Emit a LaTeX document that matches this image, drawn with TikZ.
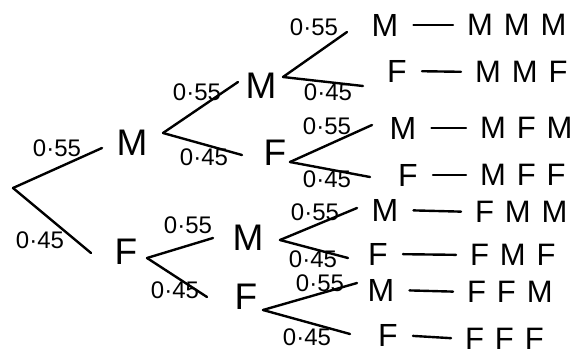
\documentclass[tikz,border=0pt]{standalone}
\usepackage{fontspec}
\setmainfont{Liberation Sans}
\newfontfamily\resfont[LetterSpace=35]{Liberation Sans}
\begin{document}
\begin{tikzpicture}[x=1pt,y=-1pt,line cap=round,line join=round,
  br/.style={line width=2.4pt},
  dashline/.style={line width=2.4pt,shorten <=15pt,shorten >=14pt},
  big/.style={inner sep=0pt,font=\fontsize{37}{37}\selectfont},
  leaf/.style={inner sep=0pt,font=\fontsize{32}{32}\selectfont},
  res/.style={inner sep=0pt,anchor=west,font=\resfont\fontsize{31}{31}\selectfont},
  prob/.style={inner sep=0pt,font=\fontsize{24}{24}\selectfont}]
\useasboundingbox (0,0) rectangle (571,362);
% level 1
\coordinate (root) at (13,188);
\coordinate (e1) at (102,148);
\coordinate (e2) at (91,253);
\node[big] (M1) at (132,143) {M};
\node[big] (F1) at (126,252) {F};
\draw[br] (root) -- (e1);
\draw[br] (root) -- (e2);
\node[prob] (p1) at (57,148) {0·55};
\node[prob] (p2) at (40,240) {0·45};
% level 2 from M1
\coordinate (vM1) at (163,133);
\coordinate (e3) at (238,82);
\coordinate (e4) at (242,155);
\node[big] (M2) at (261,86) {M};
\node[big] (F2) at (275,153) {F};
\draw[br] (vM1) -- (e3);
\draw[br] (vM1) -- (e4);
\node[prob] (p3) at (197,92) {0·55};
\node[prob] (p4) at (204,157) {0·45};
% level 2 from F1
\coordinate (vF1) at (147,258);
\coordinate (e5) at (213,238);
\coordinate (e6) at (207,297);
\node[big] (M3) at (248,238) {M};
\node[big] (F3) at (246,297) {F};
\draw[br] (vF1) -- (e5);
\draw[br] (vF1) -- (e6);
\node[prob] (p5) at (188,225) {0·55};
\node[prob] (p6) at (175,290) {0·45};
% level 3 from M2
\coordinate (vM2) at (283,77);
\coordinate (e7) at (347,32);
\coordinate (e8) at (363,86);
\node[leaf] (L1) at (385,25) {M};
\node[leaf] (L2) at (397,71) {F};
\draw[br] (vM2) -- (e7);
\draw[br] (vM2) -- (e8);
\node[prob] (p7) at (314,27) {0·55};
\node[prob] (p8) at (328,92) {0·45};
% level 3 from F2
\coordinate (vF2) at (290,162);
\coordinate (e9) at (372,125);
\coordinate (e10) at (370,177);
\node[leaf] (L3) at (403,128) {M};
\node[leaf] (L4) at (408,175) {F};
\draw[br] (vF2) -- (e9);
\draw[br] (vF2) -- (e10);
\node[prob] (p9) at (327,126) {0·55};
\node[prob] (p10) at (327,179) {0·45};
% level 3 from M3
\coordinate (vM3) at (280,240);
\coordinate (e11) at (357,208);
\coordinate (e12) at (348,258);
\node[leaf] (L5) at (385,210) {M};
\node[leaf] (L6) at (378,254) {F};
\draw[br] (vM3) -- (e11);
\draw[br] (vM3) -- (e12);
\node[prob] (p11) at (315,212) {0·55};
\node[prob] (p12) at (313,259) {0·45};
% level 3 from F3
\coordinate (vF3) at (263,310);
\coordinate (e13) at (357,283);
\coordinate (e14) at (350,334);
\node[leaf] (L7) at (381,290) {M};
\node[leaf] (L8) at (388,335) {F};
\draw[br] (vF3) -- (e13);
\draw[br] (vF3) -- (e14);
\node[prob] (p13) at (320,283) {0·55};
\node[prob] (p14) at (307,337) {0·45};
% outcomes
\node[res] (R1) at (467,25) {MMM};
\node[res] (R2) at (475,72) {MMF};
\node[res] (R3) at (480,128) {MFM};
\node[res] (R4) at (480,175) {MFF};
\node[res] (R5) at (475,212) {FMM};
\node[res] (R6) at (470,255) {FMF};
\node[res] (R7) at (467,292) {FFM};
\node[res] (R8) at (465,339) {FFF};
\foreach \i in {1,...,8} \draw[dashline] (L\i.east) -- (R\i.west);
\end{tikzpicture}
\end{document}
